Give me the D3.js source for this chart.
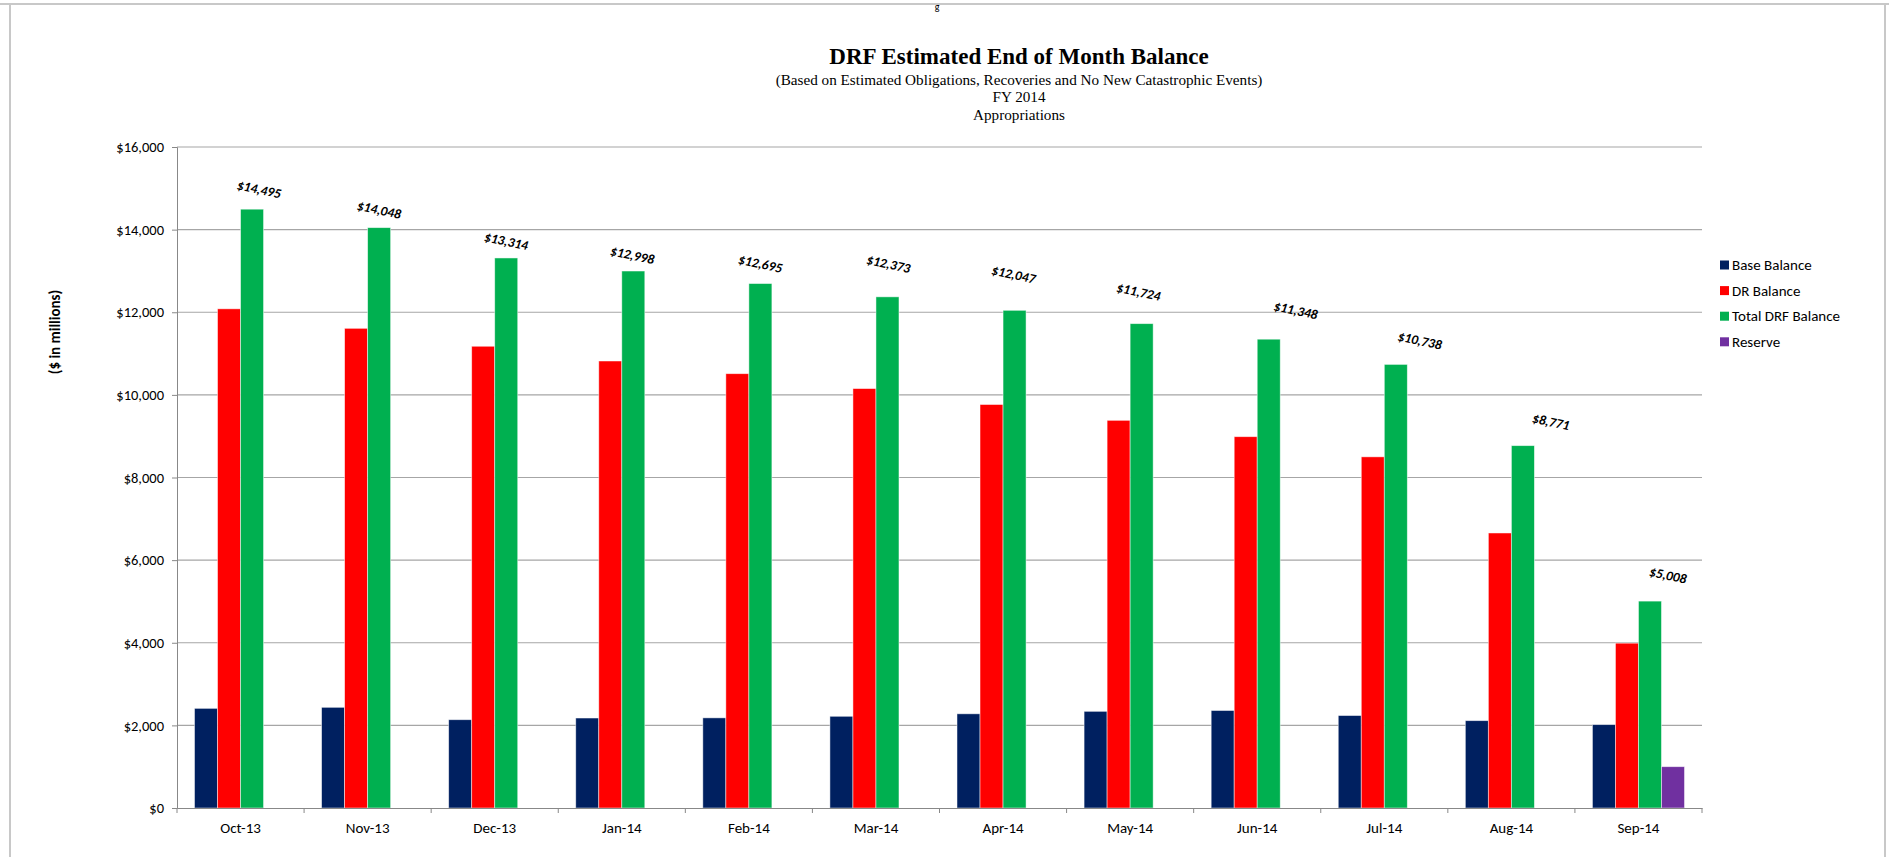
<!DOCTYPE html>
<html>
<head>
<meta charset="utf-8">
<script src="https://cdn.jsdelivr.net/npm/d3@7"></script>
<style>
  body { margin: 0; background: #fff; overflow: hidden; }
  svg { display: block; }
</style>
</head>
<body>
<div id="chart"></div>
<script>
// Data
const months = ["Oct-13", "Nov-13", "Dec-13", "Jan-14", "Feb-14", "Mar-14",
                "Apr-14", "May-14", "Jun-14", "Jul-14", "Aug-14", "Sep-14"];
const baseBalance = [2412, 2437, 2137, 2178, 2182, 2220, 2280, 2340, 2360, 2238, 2114, 2018];
const drBalance = [12083, 11611, 11177, 10820, 10513, 10153, 9767, 9384, 8988, 8500, 6657, 3990];
const totalBalance = [14495, 14048, 13314, 12998, 12695, 12373, 12047, 11724, 11348, 10738, 8771, 5008];
const reserve = [0, 0, 0, 0, 0, 0, 0, 0, 0, 0, 0, 1000];
const seriesNames = ["Base Balance", "DR Balance", "Total DRF Balance", "Reserve"];
const yTicks = [0, 2000, 4000, 6000, 8000, 10000, 12000, 14000, 16000];

// label nudges for the total labels (layout only, px)
const labelNudge = [[7, -20], [0, -18], [0, -17], [-1, -16], [0, -20], [1, -33],
                    [-1, -36], [-3, -32], [27, -29], [24, -24], [28, -24], [18, -26]];

const width = 1889;
const height = 857;
const margin = { top: 147, right: 187, bottom: 49, left: 177 };
const font = "Carlito, Lato, 'Open Sans', sans-serif";
const serif = "'Liberation Serif', 'Times New Roman', serif";

const svg = d3.select("#chart")
  .append("svg")
  .attr("width", width)
  .attr("height", height);

// outer frame of the sheet
svg.append("line").attr("x1", 0).attr("x2", width).attr("y1", 4).attr("y2", 4)
  .attr("stroke", "#c8c8c8").attr("stroke-width", 2);
svg.append("line").attr("x1", 10).attr("x2", 10).attr("y1", 4).attr("y2", height)
  .attr("stroke", "#c8c8c8").attr("stroke-width", 2);
svg.append("line").attr("x1", 1885).attr("x2", 1885).attr("y1", 4).attr("y2", height)
  .attr("stroke", "#c8c8c8").attr("stroke-width", 2);
svg.append("text")
  .attr("x", 937).attr("y", 10)
  .attr("text-anchor", "middle")
  .style("font-family", font).style("font-size", "10px")
  .text("g");

const color = d3.scaleOrdinal()
  .domain(seriesNames)
  .range(["#002060", "#FF0000", "#00B050", "#7030A0"]);

const x = d3.scaleBand()
  .domain(months)
  .range([margin.left, width - margin.right]);

const xInner = d3.scaleBand()
  .domain(seriesNames)
  .range([0, x.bandwidth()])
  .paddingOuter(0.76);

const y = d3.scaleLinear()
  .domain([0, 16000])
  .range([height - margin.bottom, margin.top]);

// gridlines
svg.append("g")
  .selectAll("line")
  .data(yTicks.slice(1))
  .enter()
  .append("line")
  .attr("x1", margin.left)
  .attr("x2", width - margin.right)
  .attr("y1", d => y(d))
  .attr("y2", d => y(d))
  .attr("stroke", "#a6a6a6")
  .attr("stroke-width", 1.2);

// y axis
const yAxis = svg.append("g")
  .attr("transform", `translate(${margin.left},0)`)
  .call(d3.axisLeft(y).tickValues(yTicks).tickSize(5).tickPadding(8)
    .tickFormat(d => "$" + d3.format(",")(d)));
yAxis.select(".domain").attr("stroke", "#888");
yAxis.selectAll(".tick line").attr("stroke", "#888");
yAxis.selectAll("text")
  .style("font-family", font)
  .style("font-size", "14.5px")
  .attr("fill", "#000");

// bar data
const rows = months.map((m, i) => ({
  month: m,
  values: [baseBalance[i], drBalance[i], totalBalance[i], reserve[i]]
}));

const groups = svg.append("g")
  .selectAll("g")
  .data(rows)
  .enter()
  .append("g")
  .attr("transform", d => `translate(${x(d.month)},0)`);

groups.selectAll("rect")
  .data(d => d.values.map((v, k) => ({ key: seriesNames[k], value: v })))
  .enter()
  .append("rect")
  .attr("x", d => xInner(d.key))
  .attr("width", xInner.bandwidth())
  .attr("y", d => y(d.value))
  .attr("height", d => y(0) - y(d.value))
  .attr("fill", d => color(d.key))
  .attr("stroke", d => d.value > 0 ? "rgba(255,255,255,0.6)" : "none")
  .attr("stroke-width", 0.8);

// x axis
const xAxis = svg.append("g")
  .attr("transform", `translate(0,${y(0)})`)
  .call(d3.axisBottom(x).tickSize(0).tickPadding(14));
xAxis.select(".domain").attr("stroke", "#888").attr("stroke-width", 1.2);
xAxis.selectAll("text")
  .style("font-family", font)
  .style("font-size", "15px")
  .attr("fill", "#000");

// tick marks between categories
svg.append("g")
  .selectAll("line")
  .data(months.concat(["end"]))
  .enter()
  .append("line")
  .attr("x1", (d, i) => margin.left + i * x.step())
  .attr("x2", (d, i) => margin.left + i * x.step())
  .attr("y1", y(0))
  .attr("y2", y(0) + 5)
  .attr("stroke", "#888");

// total labels
svg.append("g")
  .selectAll("text")
  .data(totalBalance)
  .enter()
  .append("text")
  .attr("transform", (d, i) => {
    const cx = x(months[i]) + xInner(seriesNames[2]) + xInner.bandwidth() / 2 + labelNudge[i][0];
    const cy = y(d) + labelNudge[i][1];
    return `translate(${cx},${cy}) rotate(12)`;
  })
  .attr("text-anchor", "middle")
  .attr("dy", "0.35em")
  .style("font-family", font)
  .style("font-size", "13.5px")
  .style("font-weight", "bold")
  .style("font-style", "italic")
  .text(d => "$" + d3.format(",")(d));

// y axis title
svg.append("text")
  .attr("transform", "translate(60,332) rotate(-90)")
  .attr("text-anchor", "middle")
  .style("font-family", font)
  .style("font-size", "15px")
  .style("font-weight", "bold")
  .text("($ in millions)");

// titles
const titleX = 1019;
svg.append("text")
  .attr("x", titleX).attr("y", 64)
  .attr("text-anchor", "middle")
  .style("font-family", serif)
  .style("font-size", "23px")
  .style("font-weight", "bold")
  .text("DRF Estimated End of Month Balance");
const subLines = ["(Based on Estimated Obligations, Recoveries and No New Catastrophic Events)",
                  "FY 2014", "Appropriations"];
svg.append("g")
  .selectAll("text")
  .data(subLines)
  .enter()
  .append("text")
  .attr("x", titleX)
  .attr("y", (d, i) => 85 + i * 17.3)
  .attr("text-anchor", "middle")
  .style("font-family", serif)
  .style("font-size", "15.2px")
  .text(d => d);

// legend
const legend = svg.append("g")
  .attr("transform", "translate(1720,265)");
const items = legend.selectAll("g")
  .data(seriesNames)
  .enter()
  .append("g")
  .attr("transform", (d, i) => `translate(0,${i * 25.6})`);
items.append("rect")
  .attr("x", 0).attr("y", -4.5)
  .attr("width", 9).attr("height", 9)
  .attr("fill", d => color(d));
items.append("text")
  .attr("x", 12)
  .attr("dy", "0.35em")
  .style("font-family", font)
  .style("font-size", "15px")
  .text(d => d);
</script>
</body>
</html>
